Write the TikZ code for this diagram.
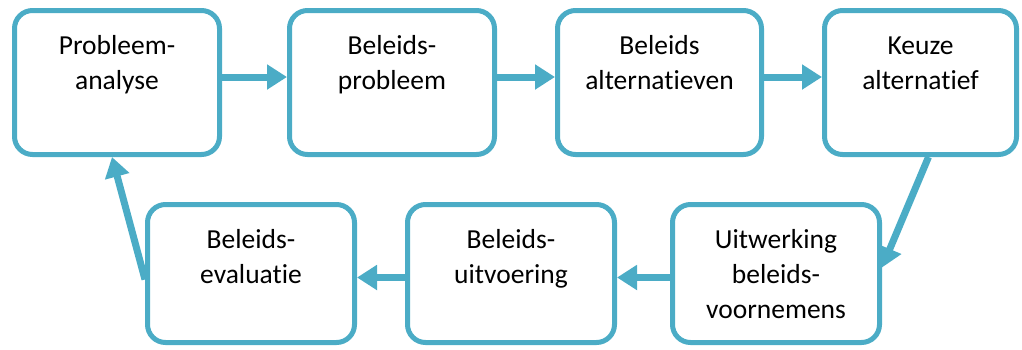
\documentclass[tikz,border=0pt]{standalone}
\usepackage{fontspec}
\setmainfont{Carlito}[Ligatures={NoCommon}]
\usetikzlibrary{arrows.meta}
\definecolor{bl}{HTML}{4BACC6}
\begin{document}
\begin{tikzpicture}[x=1pt,y=-1pt,
  box/.style={draw=bl, line width=5pt, rounded corners=18pt, minimum width=205pt, minimum height=144pt, inner sep=0pt},
  boxb/.style={box, minimum width=207pt, minimum height=138pt},
  txt/.style={font=\fontsize{27.5}{35}\selectfont, align=center, inner sep=0pt, anchor=north, text=black},
  arr/.style={draw=bl, line width=7pt, -{Triangle[width=24pt,length=20pt]}}]
\useasboundingbox (0,0) rectangle (1022,349);
% top row
\node[box] (b1) at (117,82.5) {};
\node[box] (b2) at (392,82.5) {};
\node[box, minimum width=204pt] (b3) at (659.5,82.5) {};
\node[box, minimum width=192pt] (b4) at (920.5,82.5) {};
% bottom row
\node[boxb] (b5) at (251,273.5) {};
\node[boxb] (b6) at (511,273.5) {};
\node[boxb] (b7) at (776,273.5) {};
% texts
\node[txt] (t1) at ([yshift=-22.5pt]b1.north) {\rule{0pt}{24pt}Probleem-\\analyse};
\node[txt] (t2) at ([yshift=-22.5pt]b2.north) {\rule{0pt}{24pt}Beleids-\\probleem};
\node[txt] (t3) at ([yshift=-22.5pt]b3.north) {\rule{0pt}{24pt}Beleids\\alternatieven};
\node[txt] (t4) at ([yshift=-22.5pt]b4.north) {\rule{0pt}{24pt}Keuze\\alternatief};
\node[txt] (t5) at ([yshift=-22pt]b5.north) {\rule{0pt}{24pt}Beleids-\\evaluatie};
\node[txt] (t6) at ([yshift=-22pt]b6.north) {\rule{0pt}{24pt}Beleids-\\uitvoering};
\node[txt] (t7) at ([yshift=-22pt]b7.north) {\rule{0pt}{24pt}Uitwerking\\beleids-\\voornemens};
% connectors
\draw[arr] ([yshift=5.5pt]b1.east) -- ([yshift=5.5pt]b2.west);
\draw[arr] ([yshift=5.5pt]b2.east) -- ([yshift=5.5pt]b3.west);
\draw[arr] ([yshift=5.5pt]b3.east) -- ([yshift=5.5pt]b4.west);
\draw[arr] ([xshift=8pt]b4.south) -- ([yshift=6pt]b7.east);
\draw[arr] ([yshift=-4pt]b7.west) -- ([yshift=-4pt]b6.east);
\draw[arr] ([yshift=-4pt]b6.west) -- ([yshift=-4pt]b5.east);
\draw[arr] ([yshift=-6pt]b5.west) -- ([xshift=-5pt]b1.south);
\end{tikzpicture}
\end{document}
